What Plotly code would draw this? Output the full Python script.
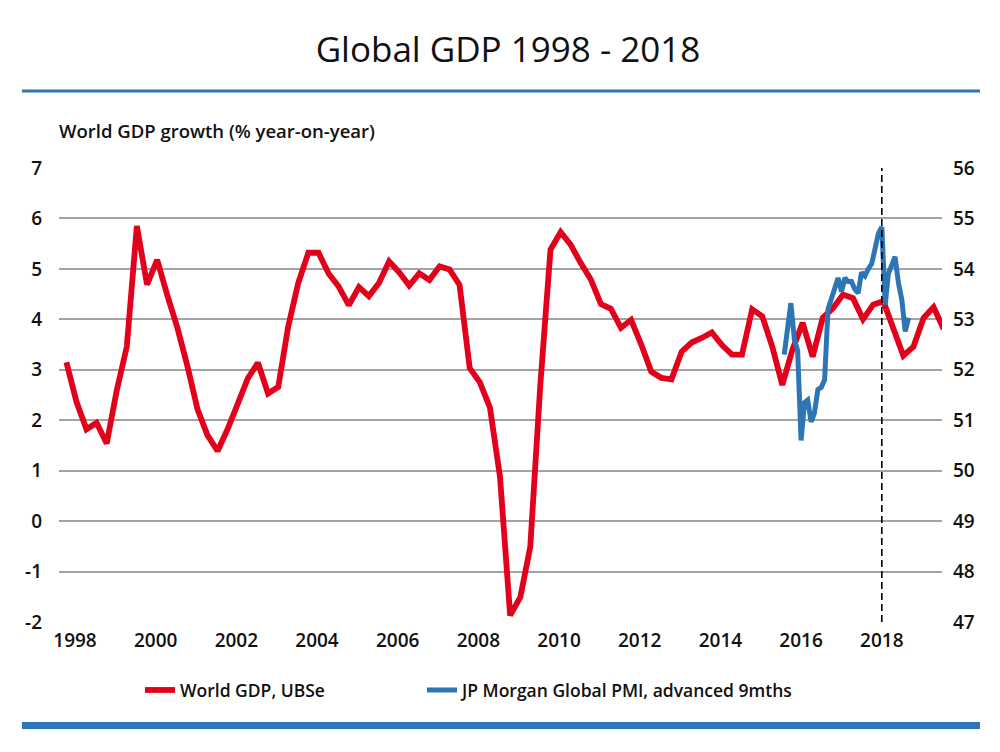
import plotly.graph_objects as go
import pandas as pd

# ---------------- data ----------------
gdp_start = "1997-09-15"          # first quarterly observation
gdp_values = [
    3.15, 2.36, 1.82, 1.95, 1.54, 2.60, 3.46, 5.85, 4.69, 5.18,
    4.48, 3.84, 3.07, 2.21, 1.70, 1.39, 1.83, 2.36, 2.83, 3.14,
    2.53, 2.66, 3.85, 4.72, 5.32, 5.32, 4.91, 4.65, 4.28, 4.64,
    4.46, 4.72, 5.15, 4.93, 4.67, 4.91, 4.78, 5.05, 4.99, 4.68,
    3.03, 2.75, 2.25, 0.88, -1.87, -1.51, -0.51, 2.70, 5.38, 5.73,
    5.48, 5.12, 4.79, 4.30, 4.21, 3.83, 3.99, 3.50, 2.96, 2.84,
    2.81, 3.36, 3.54, 3.63, 3.74, 3.49, 3.30, 3.30, 4.20, 4.06,
    3.46, 2.70, 3.40, 3.93, 3.26, 4.03, 4.22, 4.49, 4.42, 4.00,
    4.29, 4.36, 3.85, 3.28, 3.46, 4.03, 4.24, 3.81,
]
gdp_dates = pd.date_range(gdp_start, periods=len(gdp_values), freq="3MS") + pd.Timedelta(days=14)

pmi_start = "2015-08-01"          # first monthly observation (advanced 9 months)
pmi_values = [
    52.30, 52.80, 53.32, 52.60, 52.38, 50.60, 51.35, 51.40, 50.97, 51.14,
    51.61, 51.65, 51.80, 53.20, 53.42, 53.65, 53.82, 53.55, 53.82, 53.75,
    53.75, 53.60, 53.52, 53.93, 53.86, 54.00, 54.10, 54.40, 54.70, 54.83,
    53.29, 53.90, 54.10, 54.24, 53.72, 53.39, 52.76, 53.03,
]
pmi_dates = pd.date_range(pmi_start, periods=len(pmi_values), freq="MS")

year_ticks = [str(y) for y in range(1998, 2019, 2)]
left_ticks = list(range(-2, 8))
left_labels = [str(v) for v in left_ticks]      # plain hyphen for negatives
right_ticks = list(range(47, 57))
marker_date = "2018-01-01"

title_text = "Global GDP 1998 - 2018"
yaxis_text = "World GDP growth (% year-on-year)"
gdp_name = "World GDP, UBSe"
pmi_name = "JP Morgan Global PMI, advanced 9mths"

# ---------------- styling ----------------
RED = "#e3001b"
BLUE = "#2e75b6"
GRID = "#a3a3a3"
FONT = "Open Sans"

fig = go.Figure()
fig.add_trace(go.Scatter(
    x=gdp_dates, y=gdp_values, name=gdp_name, mode="lines",
    line=dict(color=RED, width=5.8), yaxis="y", legend="legend"))
fig.add_trace(go.Scatter(
    x=pmi_dates, y=pmi_values, name=pmi_name, mode="lines",
    line=dict(color=BLUE, width=5), yaxis="y2", legend="legend2"))

tickfont = dict(family=FONT, size=19, color="#111111", weight=600)
legfont = dict(family=FONT, size=17.5, color="#111111", weight=600)

fig.update_layout(
    width=1000, height=752,
    margin=dict(l=59, r=58, t=168, b=130, pad=0),
    paper_bgcolor="white", plot_bgcolor="white",
    showlegend=True,
    title=dict(text=title_text, x=0.508, xref="container", xanchor="center",
               y=1 - 50 / 752, yref="container", yanchor="middle",
               font=dict(family=FONT, size=35, color="#111111")),
    xaxis=dict(type="date", range=["1997-08-09", "2019-06-30"],
               tickvals=[f"{y}-01-01" for y in year_ticks], ticktext=year_ticks,
               showgrid=False, zeroline=False, showline=False, ticks="",
               tickfont=tickfont, ticklabelstandoff=5),
    yaxis=dict(range=[-2, 7], tickvals=left_ticks, ticktext=left_labels, showgrid=True,
               gridcolor=GRID, gridwidth=1.6, zeroline=False, showline=False,
               ticks="", tickfont=tickfont, ticklabelstandoff=16),
    yaxis2=dict(range=[47, 56], tickvals=right_ticks, overlaying="y", side="right",
                showgrid=False, zeroline=False, showline=False, ticks="",
                tickfont=tickfont, ticklabelstandoff=10),
    legend=dict(orientation="h", x=(140 - 59) / 883, xanchor="left", y=-0.15, yanchor="middle",
                font=legfont, itemwidth=30, bgcolor="rgba(0,0,0,0)"),
    legend2=dict(orientation="h", x=(422 - 59) / 883, xanchor="left", y=-0.15, yanchor="middle",
                 font=legfont, itemwidth=30, bgcolor="rgba(0,0,0,0)"),
)

# y-axis title above the plot
fig.add_annotation(text=yaxis_text, xref="paper", yref="paper", x=-0.002, y=(622 - 130) / 454,
                   xanchor="left", yanchor="middle", showarrow=False,
                   font=dict(family=FONT, size=18.5, color="#111111", weight=600))

# dashed marker
fig.add_shape(type="line", xref="x", yref="paper", x0=marker_date, x1=marker_date, y0=0, y1=1,
              line=dict(color="black", width=1.6, dash="7px,4px"))

# decorative blue rules
fig.add_shape(type="rect", xref="paper", yref="paper",
              x0=(22 - 59) / 883, x1=(980 - 59) / 883,
              y0=(622 - 92.5) / 454, y1=(622 - 89.5) / 454,
              fillcolor=BLUE, line=dict(width=0), layer="above")
fig.add_shape(type="rect", xref="paper", yref="paper",
              x0=(22 - 59) / 883, x1=(980 - 59) / 883,
              y0=(622 - 729) / 454, y1=(622 - 722) / 454,
              fillcolor=BLUE, line=dict(width=0), layer="above")

fig.write_html("out.html", config={"displayModeBar": False},
               post_script="document.body.style.margin='0';")
